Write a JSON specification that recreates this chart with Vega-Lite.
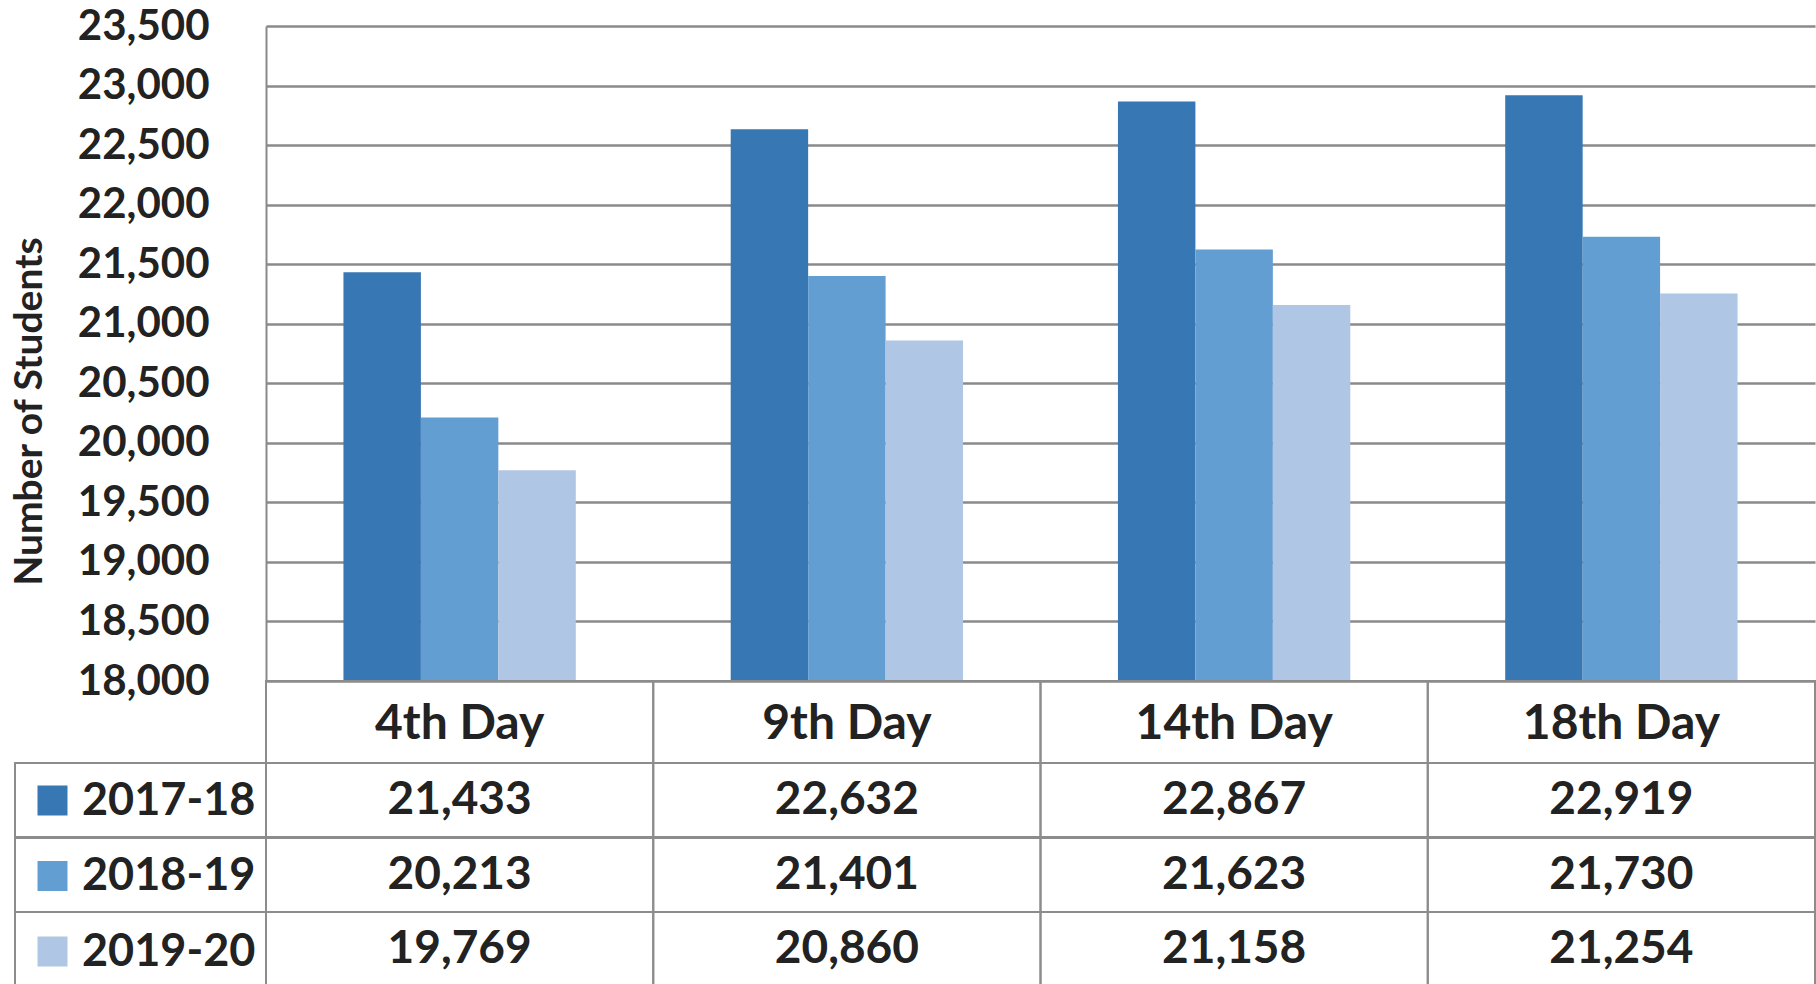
{
  "$schema": "https://vega.github.io/schema/vega-lite/v6.json",
  "width": 1800,
  "height": 958,
  "autosize": {"type": "none"},
  "padding": {"left": 15, "top": 26, "right": 1, "bottom": 0},
  "background": "white",
  "config": {"view": {"stroke": null}, "font": "Lato"},
  "data": {
    "values": [
      {"Day": "4th Day", "Year": "2017-18", "Students": 21433},
      {"Day": "4th Day", "Year": "2018-19", "Students": 20213},
      {"Day": "4th Day", "Year": "2019-20", "Students": 19769},
      {"Day": "9th Day", "Year": "2017-18", "Students": 22632},
      {"Day": "9th Day", "Year": "2018-19", "Students": 21401},
      {"Day": "9th Day", "Year": "2019-20", "Students": 20860},
      {"Day": "14th Day", "Year": "2017-18", "Students": 22867},
      {"Day": "14th Day", "Year": "2018-19", "Students": 21623},
      {"Day": "14th Day", "Year": "2019-20", "Students": 21158},
      {"Day": "18th Day", "Year": "2017-18", "Students": 22919},
      {"Day": "18th Day", "Year": "2018-19", "Students": 21730},
      {"Day": "18th Day", "Year": "2019-20", "Students": 21254}
    ]
  },
  "layer": [
    {
      "mark": {"type": "bar"},
      "encoding": {
        "x": {
          "field": "Day", "type": "nominal",
          "sort": ["4th Day", "9th Day", "14th Day", "18th Day"],
          "scale": {"range": [251, 1800], "paddingInner": 0, "paddingOuter": 0},
          "axis": null
        },
        "xOffset": {
          "field": "Year", "type": "nominal",
          "sort": ["2017-18", "2018-19", "2019-20"],
          "scale": {"paddingInner": 0, "paddingOuter": 1.058}
        },
        "y": {
          "field": "Students", "type": "quantitative",
          "scale": {"domain": [18000, 23500], "range": [655, 0], "zero": false, "nice": false},
          "axis": {
            "title": "Number of Students",
            "values": [18000, 18500, 19000, 19500, 20000, 20500, 21000, 21500, 22000, 22500, 23000, 23500],
            "format": ",d", "offset": -251,
            "grid": true, "gridColor": "#8a8a8a", "gridWidth": 2.5,
            "domain": true, "domainColor": "#8a8a8a", "domainWidth": 2,
            "ticks": false,
            "labelFontSize": 42, "labelFont": "Lato", "labelFontWeight": "bold",
            "labelColor": "#222222", "labelPadding": 57,
            "titleFontSize": 39, "titleFont": "Lato", "titleFontWeight": "bold",
            "titleColor": "#222222", "titleX": -237, "titleY": 385,
            "titleBaseline": "middle", "titleAlign": "center", "titleAngle": -90
          }
        },
        "y2": {"datum": 18000},
        "color": {
          "field": "Year", "type": "nominal",
          "scale": {"domain": ["2017-18", "2018-19", "2019-20"], "range": ["#3777B3", "#629ED2", "#AFC6E4"]},
          "legend": {
            "orient": "none", "legendX": 15, "legendY": 752, "direction": "vertical",
            "title": null, "symbolType": "square", "symbolSize": 900, "symbolStrokeWidth": 0,
            "labelFontSize": 45, "labelFont": "Lato", "labelFontWeight": "bold",
            "labelColor": "#222222", "labelOffset": 7, "rowPadding": 29.5,
            "padding": 0, "labelLimit": 400
          }
        }
      }
    },
    {
      "layer": [
        {
          "mark": {"type": "rect", "fill": "white", "fillOpacity": 0, "stroke": "#8c8c8c", "strokeWidth": 2},
          "encoding": {
            "y": {
              "field": "Year", "type": "nominal",
              "scale": {"domain": ["2017-18", "2018-19", "2019-20"], "range": [737, 960.5], "paddingInner": 0, "paddingOuter": 0},
              "axis": null
            }
          }
        },
        {
          "mark": {"type": "rect", "fill": "white", "fillOpacity": 0, "stroke": "#8c8c8c", "strokeWidth": 2},
          "encoding": {
            "x": {"field": "Day", "type": "nominal", "sort": ["4th Day", "9th Day", "14th Day", "18th Day"], "axis": null},
            "y": {
              "field": "Year", "type": "nominal",
              "scale": {"domain": ["2017-18", "2018-19", "2019-20"], "range": [737, 960.5], "paddingInner": 0, "paddingOuter": 0},
              "axis": null
            }
          }
        },
        {
          "mark": {"type": "text", "fontSize": 46, "font": "Lato", "fontWeight": "bold", "color": "#222222", "baseline": "middle", "align": "center"},
          "encoding": {
            "x": {"field": "Day", "type": "nominal", "sort": ["4th Day", "9th Day", "14th Day", "18th Day"], "axis": null},
            "y": {
              "field": "Year", "type": "nominal",
              "scale": {"domain": ["2017-18", "2018-19", "2019-20"], "range": [737, 960.5], "paddingInner": 0, "paddingOuter": 0},
              "axis": null
            },
            "text": {"field": "Students", "type": "quantitative", "format": ",d"}
          }
        }
      ]
    },
    {
      "transform": [{"aggregate": [{"op": "count", "as": "n"}], "groupby": ["Day"]}],
      "layer": [
        {
          "mark": {"type": "rect", "fill": "white", "fillOpacity": 0, "stroke": "#8c8c8c", "strokeWidth": 2},
          "encoding": {
            "x": {"field": "Day", "type": "nominal", "sort": ["4th Day", "9th Day", "14th Day", "18th Day"], "axis": null},
            "y": {
              "datum": "Day", "type": "nominal",
              "scale": {"domain": ["Day"], "range": [655, 737], "paddingInner": 0, "paddingOuter": 0},
              "axis": null
            }
          }
        },
        {
          "mark": {"type": "text", "fontSize": 48, "font": "Lato", "fontWeight": "bold", "color": "#222222", "baseline": "middle", "align": "center", "dy": 3},
          "encoding": {
            "x": {"field": "Day", "type": "nominal", "sort": ["4th Day", "9th Day", "14th Day", "18th Day"], "axis": null},
            "y": {
              "datum": "Day", "type": "nominal",
              "scale": {"domain": ["Day"], "range": [655, 737], "paddingInner": 0, "paddingOuter": 0},
              "axis": null
            },
            "text": {"field": "Day", "type": "nominal"}
          }
        }
      ]
    }
  ],
  "resolve": {"scale": {"y": "independent"}}
}
